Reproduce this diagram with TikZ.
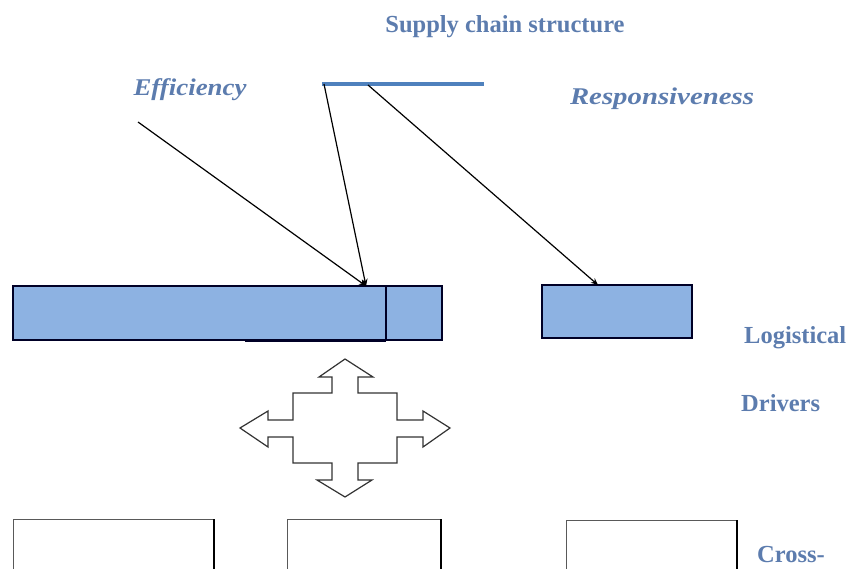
\documentclass[tikz,border=0pt]{standalone}
\usepackage{graphicx}
\usepackage{fontspec}
\setmainfont{Liberation Serif}
\usetikzlibrary{arrows.meta}
\definecolor{txtblue}{RGB}{92,124,174}
\definecolor{lineblue}{RGB}{79,129,189}
\definecolor{fillblue}{RGB}{141,178,226}
\newcommand\hstretch[2]{\scalebox{#1}[1]{#2}}
\tikzset{
  lbl/.style={text=txtblue,font=\bfseries\fontsize{24.5}{28}\selectfont,inner sep=0pt},
  ilbl/.style={text=txtblue,font=\bfseries\itshape\fontsize{24}{28}\selectfont,inner sep=0pt},
  conn/.style={draw=black,line width=1.2pt,-{Stealth[length=7pt,width=6pt]}},
  bluebox/.style={draw=black!85!blue,line width=1.4pt,fill=fillblue},
  whitebox/.style={draw=black!65,line width=1pt,fill=white},
}
\begin{document}
\begin{tikzpicture}[x=1pt,y=-1pt]
\useasboundingbox (0,0) rectangle (848,569);
\clip (0,0) rectangle (848,569);
% title and labels
\node[lbl,anchor=base] (title) at (505,33) {Supply chain structure};
\node[ilbl,anchor=base] (eff) at (190,96) {\hstretch{1.12}{Efficiency}};
\node[ilbl,anchor=base] (resp) at (662,105) {\hstretch{1.2}{Responsiveness}};
\node[lbl,anchor=base west] (logi) at (744,343) {Logistical};
\node[lbl,anchor=base west] (driv) at (741,411) {Drivers};
\node[lbl,anchor=base west] (cross) at (757,562) {Cross-};
% blue bar
\node[fill=lineblue,minimum width=162pt,minimum height=4pt,inner sep=0pt,anchor=west] (bar) at (322,84) {};
\coordinate (effstart) at (138,122);
\coordinate (barL) at (324,84);
\coordinate (barM) at (368,85);
% blue boxes
\draw[bluebox] (13,286) rectangle (442,340);
\draw[black!85!blue,line width=1.4pt] (386,286) -- (386,340);
\draw[black!85!blue,line width=1.8pt] (245,341) -- (386,341);
\coordinate (tipA) at (366,286);
\draw[bluebox] (542,285) rectangle (692,338);
\coordinate (tipB) at (598,285);
% connectors
\draw[conn] (effstart) -- (tipA);
\draw[conn] (barL) -- (tipA);
\draw[conn] (barM) -- (tipB);
% quad arrow
\draw[line width=1.2pt,draw=black!80,fill=white,line join=miter]
 (345,359) -- (373,377) -- (358,377) -- (358,393) -- (397,393) -- (397,420) -- (423,420) -- (423,411) -- (450,428) -- (423,447) -- (423,437) -- (397,437) -- (397,463) -- (358,463) -- (358,480) -- (372,480) -- (345,497) -- (317,480) -- (332,480) -- (332,463) -- (293,463) -- (293,437) -- (268,437) -- (268,447) -- (240,428) -- (268,411) -- (268,420) -- (293,420) -- (293,393) -- (332,393) -- (332,377) -- (319,377) -- cycle;
% white boxes
\draw[whitebox] (13,519) rectangle (214,580);
\draw[whitebox] (287,519) rectangle (441,580);
\draw[whitebox] (566,520) rectangle (737,580);
\draw[black,line width=1.5pt] (214,519) -- (214,569);
\draw[black,line width=1.5pt] (441,519) -- (441,569);
\draw[black,line width=1.5pt] (737,520) -- (737,569);
\end{tikzpicture}
\end{document}
